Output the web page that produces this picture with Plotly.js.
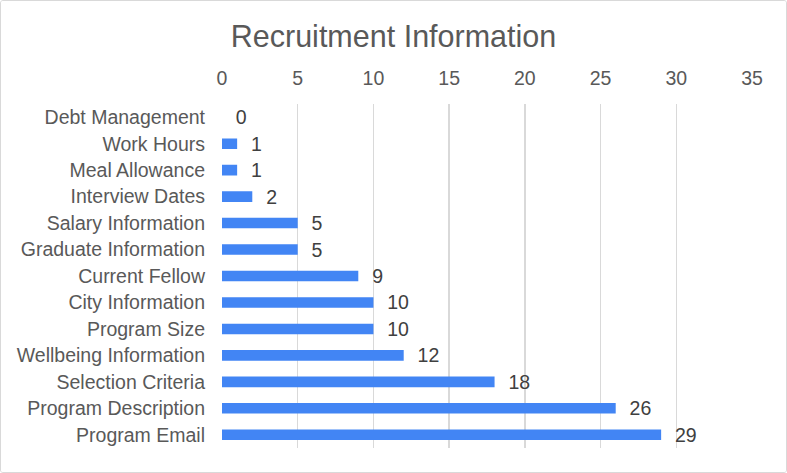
<!DOCTYPE html>
<html>
<head>
<meta charset="utf-8">
<script src="https://cdn.plot.ly/plotly-3.0.1.min.js"></script>
<style>
html,body{margin:0;padding:0;background:#fff;}
#chart{width:785px;height:471px;border:1px solid #d9d9d9;border-radius:3px;overflow:hidden;}
</style>
</head>
<body>
<div id="chart"></div>
<script>
const categories = ["Debt Management","Work Hours","Meal Allowance","Interview Dates","Salary Information","Graduate Information","Current Fellow","City Information","Program Size","Wellbeing Information","Selection Criteria","Program Description","Program Email"];
const counts = [0,1,1,2,5,5,9,10,10,12,18,26,29];
const xTicks = [0,5,10,15,20,25,30,35];

const trace = {
  type: 'bar',
  orientation: 'h',
  y: categories,
  x: counts,
  marker: {color: '#4285F4'},
  width: 0.4,
  text: counts.map(String),
  texttemplate: '  %{text}',
  textposition: 'outside',
  constraintext: 'none',
  textfont: {family: 'Liberation Sans, Arial, sans-serif', size: 19.5, color: '#404040'},
  cliponaxis: false,
  hoverinfo: 'x+y'
};

const layout = {
  width: 785,
  height: 471,
  margin: {l: 221, r: 34, t: 103, b: 24},
  paper_bgcolor: '#ffffff',
  plot_bgcolor: '#ffffff',
  font: {family: 'Liberation Sans, Arial, sans-serif', color: '#595959'},
  title: {
    text: 'Recruitment Information',
    font: {size: 30.5, color: '#595959'},
    x: 0.5, xanchor: 'center',
    y: 0.925, yanchor: 'middle'
  },
  showlegend: false,
  bargap: 0.6,
  xaxis: {
    side: 'top',
    range: [0, 35],
    tickvals: xTicks,
    showgrid: true,
    gridcolor: '#d9d9d9',
    gridwidth: 1.5,
    zeroline: false,
    showline: false,
    ticks: '',
    ticklen: 0,
    ticklabelstandoff: 14,
    tickfont: {size: 19.5, color: '#595959'},
    fixedrange: true
  },
  yaxis: {
    type: 'category',
    categoryorder: 'array',
    categoryarray: categories,
    autorange: 'reversed',
    showgrid: false,
    zeroline: false,
    showline: false,
    ticks: '',
    ticklabelstandoff: 16,
    tickfont: {size: 19.5, color: '#595959'},
    fixedrange: true
  }
};

Plotly.newPlot('chart', [trace], layout, {displayModeBar: false, staticPlot: true});
</script>
</body>
</html>
